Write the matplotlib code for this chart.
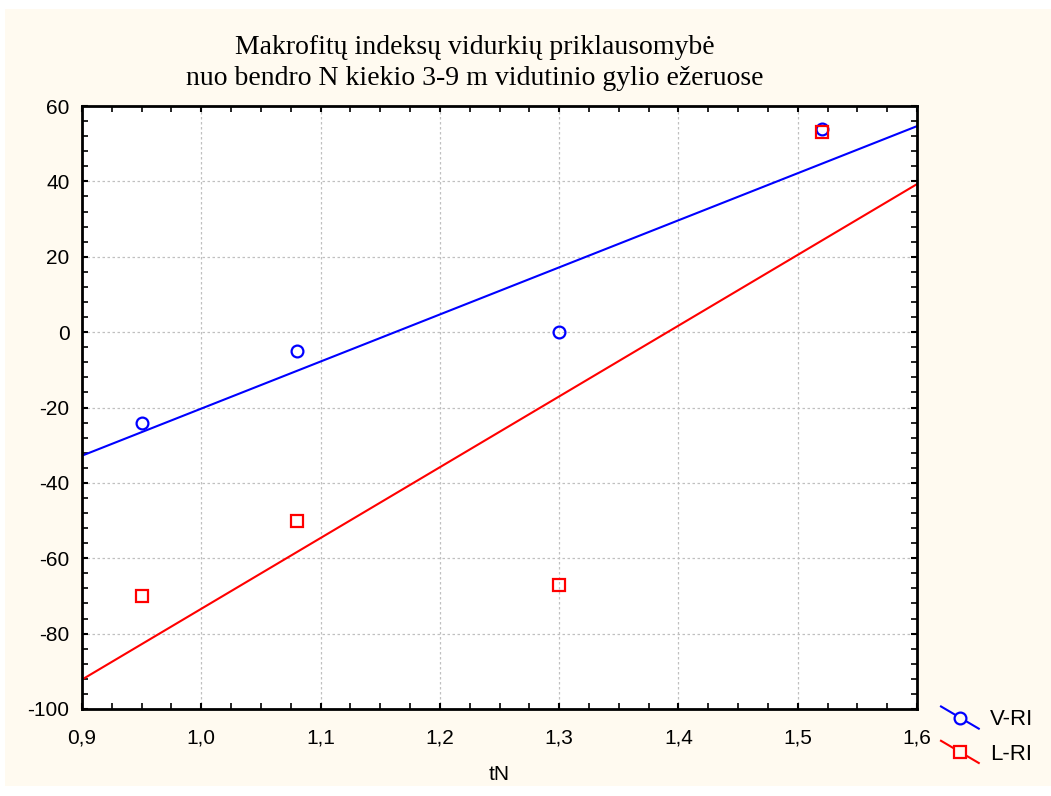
import numpy as np
import matplotlib
matplotlib.use('Agg')
import matplotlib.pyplot as plt
from matplotlib.lines import Line2D
from matplotlib.patches import Rectangle
from matplotlib.legend_handler import HandlerLine2D
from matplotlib.ticker import MultipleLocator, AutoMinorLocator, FuncFormatter

# data
tN = [0.95, 1.08, 1.30, 1.52]
v_ri = [-24, -5, 0, 54]
l_ri = [-70, -50, -67, 53]
series_names = ['V-RI', 'L-RI']

title = 'Makrofitų indeksų vidurkių priklausomybė\nnuo bendro N kiekio 3-9 m vidutinio gylio ežeruose'
cream = '#FFFAF0'


class DiagHandler(HandlerLine2D):
    # statistica style legend key: diagonal line with marker in the middle
    def create_artists(self, legend, orig_handle, xdescent, ydescent,
                       width, height, fontsize, trans):
        x0, x1 = -xdescent, -xdescent + width
        yc = -ydescent + height / 2
        y0, y1 = yc + 8, yc - 8
        ln = Line2D([x0, x1], [y0, y1], color=orig_handle.get_color(),
                    lw=orig_handle.get_linewidth())
        mk = Line2D([(x0 + x1) / 2], [yc], linestyle='',
                    marker=orig_handle.get_marker(),
                    markersize=orig_handle.get_markersize(),
                    markerfacecolor=cream,
                    markeredgecolor=orig_handle.get_color(),
                    markeredgewidth=orig_handle.get_markeredgewidth())
        ln.set_transform(trans)
        mk.set_transform(trans)
        return [ln, mk]


fig = plt.figure(figsize=(10.51, 7.96), dpi=100, facecolor='white')
fig.patches.append(Rectangle((5 / 1051, 1 - 786 / 796), 1 - 5 / 1051, (786 - 9) / 796,
                             transform=fig.transFigure, facecolor=cream,
                             edgecolor='none', zorder=-10))

ax = fig.add_axes([82 / 1051, 1 - 709 / 796, (917 - 82) / 1051, (709 - 106) / 796])
ax.set_facecolor('white')

x = np.array(tN)
xs = np.array([0.9, 1.6])
handles = []
for y, col, mk, ms in [(v_ri, 'blue', 'o', 8.5), (l_ri, 'red', 's', 8.5)]:
    ax.plot(x, y, linestyle='', marker=mk, markersize=ms, markerfacecolor='none',
            markeredgecolor=col, markeredgewidth=1.6, zorder=3)
    k, b = np.polyfit(x, y, 1)
    ax.plot(xs, k * xs + b, color=col, lw=1.5, zorder=2)
    handles.append(Line2D([], [], color=col, lw=1.5, marker=mk, markersize=ms,
                          markeredgewidth=1.6))

ax.set_xlim(0.9, 1.6)
ax.set_ylim(-100, 60)
ax.xaxis.set_major_locator(MultipleLocator(0.1))
ax.xaxis.set_minor_locator(AutoMinorLocator(4))
ax.yaxis.set_major_locator(MultipleLocator(20))
ax.yaxis.set_minor_locator(AutoMinorLocator(5))
ax.xaxis.set_major_formatter(FuncFormatter(lambda v, p: ('%.1f' % v).replace('.', ',')))
ax.yaxis.set_major_formatter(FuncFormatter(lambda v, p: '%d' % round(v)))

ax.grid(which='major', color='#c0c0c0', linestyle=(0, (2, 2)), lw=0.9)
ax.tick_params(which='both', direction='in', top=True, right=True, color='black',
               labelsize=15, labelfontfamily='Liberation Sans')
ax.tick_params(which='major', length=4, width=1.5)
ax.tick_params(which='minor', length=4, width=1.2)
ax.tick_params(axis='x', which='major', pad=14)
ax.tick_params(axis='y', which='major', pad=9)
for s in ax.spines.values():
    s.set_linewidth(2)

ax.set_xlabel('tN', fontsize=15, family='Liberation Sans', labelpad=13)

fig.text(475 / 1051, 1 - 63 / 796, title, ha='center', va='center',
         fontsize=20, family='Liberation Serif', linespacing=1.35)

fig.legend(handles, series_names, handler_map={Line2D: DiagHandler()},
           loc='center left', bbox_to_anchor=(941 / 1051, 1 - 737 / 796),
           frameon=False, prop={'family': 'Liberation Sans', 'size': 16},
           handlelength=1.7, handletextpad=0.5, labelspacing=0.6,
           borderpad=0, borderaxespad=0)

fig.savefig('out.png', dpi=100, facecolor=fig.get_facecolor())
